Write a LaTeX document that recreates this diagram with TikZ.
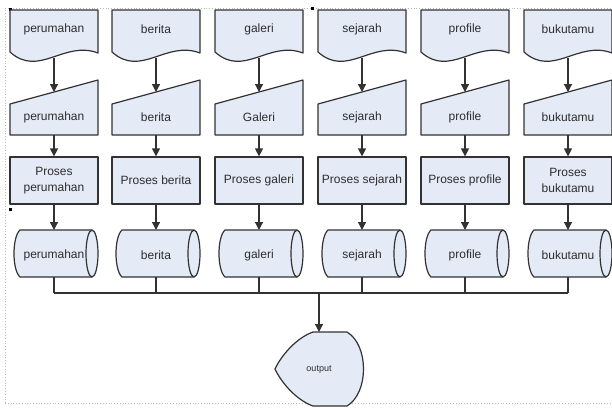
\documentclass[tikz,border=0pt]{standalone}
\usepackage{fontspec}
\setmainfont{Liberation Sans}
\usetikzlibrary{arrows.meta}
\definecolor{fc}{RGB}{229,235,246}
\definecolor{lc}{RGB}{50,50,50}
\definecolor{tc}{RGB}{45,45,45}
\begin{document}
\begin{tikzpicture}[x=1pt,y=-1pt,
  shp/.style={draw=lc,fill=fc,line width=1.2pt,line join=round},
  lbl/.style={text=tc,font=\fontsize{12}{16}\selectfont,align=center,inner sep=0pt},
  procbox/.style={shp,minimum width=88pt,minimum height=47pt,inner sep=0pt,text=tc,font=\fontsize{12}{16}\selectfont,align=center},
  arr/.style={draw=lc,line width=1.2pt,-{Triangle[length=8pt,width=8pt]}},
  ln/.style={draw=lc,line width=1.2pt},
  frame/.style={draw=gray!55,dotted,line width=0.8pt},
  handle/.style={fill=black}]
\useasboundingbox (0,0) rectangle (612,407);
% selection frame
\draw[frame] (5,403) -- (5,8) -- (612,8);
\draw[frame] (5,403) -- (612,403);
\fill[handle] (8.5,7.5) rectangle (11.5,10.5);
\fill[handle] (310.5,6.5) rectangle (313.5,9.5);
\fill[handle] (8.5,207.5) rectangle (11.5,210.5);
\foreach \i/\cx/\a/\b/\c/\d in {
  1/54/perumahan/perumahan/{Proses\\perumahan}/perumahan,
  2/156/berita/berita/{Proses berita}/berita,
  3/259/galeri/Galeri/{Proses galeri}/galeri,
  4/362/sejarah/sejarah/{Proses sejarah}/sejarah,
  5/465/profile/profile/{Proses profile}/profile,
  6/568/bukutamu/bukutamu/{Proses\\bukutamu}/bukutamu}{
  % document
  \draw[shp] ({\cx-44},52) -- ({\cx-44},10) -- ({\cx+44},10) -- ({\cx+44},53)
     .. controls ({\cx+10},40) and ({\cx-15},78) .. ({\cx-44},52) -- cycle;
  \node[lbl] (d\i) at (\cx,29) {\a};
  \coordinate (db\i) at (\cx,57.5);
  % manual input
  \draw[shp] ({\cx-44},104) -- ({\cx+44},80) -- ({\cx+44},135) -- ({\cx-44},135) -- cycle;
  \node[lbl] (t\i) at (\cx,117) {\b};
  \coordinate (tt\i) at (\cx,92);
  \coordinate (tb\i) at (\cx,135);
  % process
  \node[procbox] (p\i) at (\cx,180.5) {\c};
  % stored data (cylinder)
  \draw[shp] ({\cx-34},230) -- ({\cx+38},230) -- ({\cx+38},277) -- ({\cx-34},277)
     .. controls ({\cx-42},270) and ({\cx-42},237) .. ({\cx-34},230) -- cycle;
  \draw[shp] ({\cx+38},253.5) ellipse [x radius=6, y radius=23.5];
  \node[lbl] (c\i) at (\cx,255) {\d};
  \coordinate (ct\i) at (\cx,230);
  \coordinate (cb\i) at (\cx,277);
  \coordinate (bus\i) at (\cx,293);
  % connectors
  \draw[arr] (db\i) -- (tt\i);
  \draw[arr] (tb\i) -- (p\i.north);
  \draw[arr] (p\i.south) -- (ct\i);
  \draw[ln] (cb\i) -- (bus\i);
}
\draw[ln] (bus1) -- (bus6);
% output (display)
\draw[shp] (313,332) -- (347,332) .. controls (369,345) and (369,393) .. (347,406)
   -- (313,406) .. controls (296,400) and (281,382) .. (275,369)
   .. controls (281,356) and (296,338) .. (313,332) -- cycle;
\node[text=tc,font=\fontsize{9}{11}\selectfont,inner sep=0pt] (out) at (319,370) {output};
\coordinate (outtop) at (319,332);
\coordinate (busc) at (319,293);
\draw[arr] (busc) -- (outtop);
\end{tikzpicture}
\end{document}
